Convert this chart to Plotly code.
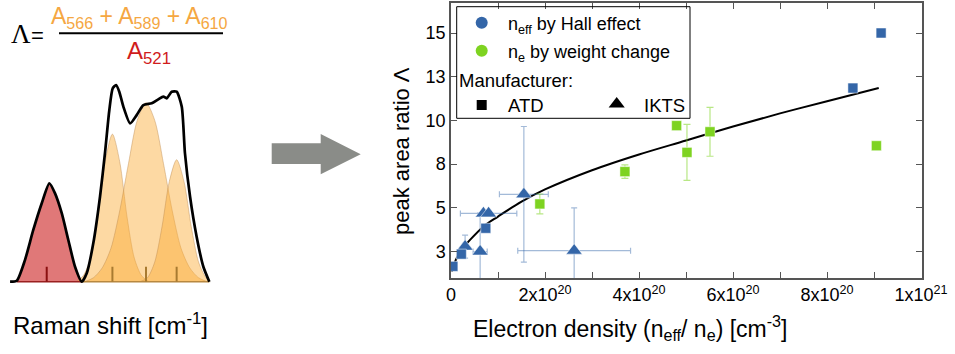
import plotly.graph_objects as go

W, H = 955, 354

# ---------------- Raman spectrum sketch (left panel) ----------------
spectrum_shift = [495.9, 500.5, 506.1, 511.8, 517.6, 522.8, 526.7, 531.3, 535.8, 540.4,
                  545.0, 548.4, 552.9, 557.5, 560.9, 563.9, 566.2, 568.5, 570.7, 573.5,
                  578.1, 582.6, 587.2, 592.9, 597.4, 600.9, 603.2, 606.6, 610.0, 613.5,
                  615.7, 619.2, 623.7, 628.3, 632.4]
spectrum_int = [0.0, 0.005, 0.110, 0.263, 0.399, 0.500, 0.449, 0.348, 0.212, 0.076,
                0.0, 0.043, 0.195, 0.432, 0.653, 0.873, 0.983, 1.0, 0.966, 0.890,
                0.805, 0.847, 0.898, 0.907, 0.927, 0.941, 0.932, 0.966, 0.966, 0.890,
                0.653, 0.432, 0.229, 0.076, 0.0]

band_566_shift = [541, 546, 551, 556, 561, 566, 571, 576, 581, 586, 591]
band_566_int = [0.0, 0.03, 0.12, 0.33, 0.61, 0.75, 0.61, 0.33, 0.12, 0.03, 0.0]
band_589_shift = [547, 553, 559, 565, 571, 577, 583, 589, 595, 601, 607, 613, 619, 625, 631]
band_589_int = [0.0, 0.02, 0.07, 0.17, 0.36, 0.60, 0.82, 0.91, 0.82, 0.60, 0.36, 0.17, 0.07, 0.02, 0.0]
band_610_shift = [585, 590, 595, 600, 605, 610, 615, 620, 625, 630, 633]
band_610_int = [0.0, 0.02, 0.10, 0.28, 0.51, 0.62, 0.51, 0.28, 0.10, 0.02, 0.0]

peak_positions = [521, 566, 589, 610]
peak_tick_height = 0.076

# ---------------- Λ vs electron density (right panel) ----------------
hall_atd_x = [0.04e20, 0.22e20, 0.74e20, 8.55e20, 9.15e20]
hall_atd_y = [1.65, 2.35, 3.83, 11.85, 15.0]

hall_ikts_x = [0.30e20, 0.62e20, 0.69e20, 0.80e20, 1.55e20, 2.62e20]
hall_ikts_y = [2.78, 2.50, 4.68, 4.68, 5.77, 2.55]
hall_ikts_xerr = [None, 0.15e20, None, 0.60e20, 0.52e20, 1.20e20]
hall_ikts_yerr = [0.66, 2.2, None, None, 3.88, 2.45]

weight_atd_x = [1.89e20, 3.70e20, 4.80e20, 5.02e20, 5.51e20, 9.05e20]
weight_atd_y = [5.22, 7.07, 9.70, 8.17, 9.35, 8.55]
weight_atd_yerr = [0.57, 0.39, None, 1.6, 1.4, None]

fit_x = [0.015e20, 0.1e20, 0.2e20, 0.4e20, 0.7e20, 1.0e20, 1.5e20, 2.0e20, 3.0e20,
         4.0e20, 5.0e20, 6.0e20, 7.0e20, 8.0e20, 9.1e20]
fit_y = [1.34, 2.0, 2.5, 3.15, 3.95, 4.5, 5.35, 6.05, 7.15, 8.05, 8.85, 9.65, 10.4, 11.1, 11.85]

x_tick_vals = [0, 1e20, 2e20, 3e20, 4e20, 5e20, 6e20, 7e20, 8e20, 9e20, 1e21]
x_tick_text = ["0", "", "2x10<sup>20</sup>", "", "4x10<sup>20</sup>", "",
               "6x10<sup>20</sup>", "", "8x10<sup>20</sup>", "", "1x10<sup>21</sup>"]
y_tick_vals = [2.5, 5, 7.5, 10, 12.5, 15]
y_tick_text = ["3", "5", "8", "10", "13", "15"]

BLUE = "#3466a8"
GREEN = "#7ed321"
ORANGE_TXT = "#f5a742"
RED_TXT = "#d01c1c"
FONT = "Liberation Sans, Arial, sans-serif"

fig = go.Figure()

# --- left panel: bands and spectrum ---
red_idx = [i for i, s in enumerate(spectrum_shift) if 500 <= s <= 545]
fig.add_trace(go.Scatter(
    x=[spectrum_shift[i] for i in red_idx], y=[spectrum_int[i] for i in red_idx],
    mode="lines", line=dict(width=0, shape="spline", smoothing=0.6),
    fill="tozeroy", fillcolor="#e07878", xaxis="x2", yaxis="y2", hoverinfo="skip"))

for bs, bi in [(band_566_shift, band_566_int), (band_589_shift, band_589_int),
               (band_610_shift, band_610_int)]:
    fig.add_trace(go.Scatter(
        x=bs, y=bi, mode="lines",
        line=dict(width=1, color="rgba(190,140,80,0.45)", shape="spline", smoothing=0.8),
        fill="tozeroy", fillcolor="rgba(250,170,50,0.45)",
        xaxis="x2", yaxis="y2", hoverinfo="skip"))

# baselines under the red and orange parts
fig.add_trace(go.Scatter(x=[500.5, 545.0], y=[0, 0], mode="lines",
                         line=dict(color="#9a2020", width=1.5), xaxis="x2", yaxis="y2"))
fig.add_trace(go.Scatter(x=[545.0, 632.4], y=[0, 0], mode="lines",
                         line=dict(color="#b88840", width=1.5), xaxis="x2", yaxis="y2"))

# peak position ticks
for k, p in enumerate(peak_positions):
    fig.add_trace(go.Scatter(
        x=[p, p], y=[0, peak_tick_height], mode="lines",
        line=dict(color="#8b1010" if k == 0 else "#a87a30", width=2),
        xaxis="x2", yaxis="y2", hoverinfo="skip"))

fig.add_trace(go.Scatter(
    x=spectrum_shift, y=spectrum_int, mode="lines",
    line=dict(color="black", width=2.7, shape="spline", smoothing=0.6),
    xaxis="x2", yaxis="y2", hoverinfo="skip"))

# --- right panel ---
fig.add_trace(go.Scatter(x=fit_x, y=fit_y, mode="lines",
                         line=dict(color="black", width=2, shape="spline", smoothing=1.0)))

fig.add_trace(go.Scatter(
    x=hall_ikts_x, y=hall_ikts_y, mode="markers",
    marker=dict(symbol="triangle-up", size=14, color=BLUE,
                line=dict(color="rgba(255,255,255,0.5)", width=1)),
    error_x=dict(type="data", array=hall_ikts_xerr, visible=True,
                 color="rgba(52,102,168,0.45)", thickness=1.2, width=3),
    error_y=dict(type="data", array=hall_ikts_yerr, visible=True,
                 color="rgba(52,102,168,0.45)", thickness=1.2, width=3)))

fig.add_trace(go.Scatter(
    x=hall_atd_x, y=hall_atd_y, mode="markers",
    marker=dict(symbol="square", size=10, color=BLUE,
                line=dict(color="rgba(255,255,255,0.5)", width=1))))

fig.add_trace(go.Scatter(
    x=weight_atd_x, y=weight_atd_y, mode="markers",
    marker=dict(symbol="square", size=10, color=GREEN,
                line=dict(color="rgba(255,255,255,0.5)", width=1)),
    error_y=dict(type="data", array=weight_atd_yerr, visible=True,
                 color="rgba(126,211,33,0.55)", thickness=1.2, width=3.5)))

# --- legend drawn on a pixel overlay ---
fig.add_trace(go.Scatter(
    x=[481.7, 481.7], y=[22.7, 50.7], mode="markers",
    marker=dict(symbol="circle", size=12, color=[BLUE, GREEN]),
    xaxis="x3", yaxis="y3", hoverinfo="skip"))
fig.add_trace(go.Scatter(
    x=[481.7], y=[105], mode="markers",
    marker=dict(symbol="square", size=10, color="black"),
    xaxis="x3", yaxis="y3", hoverinfo="skip"))
fig.add_trace(go.Scatter(
    x=[616.7], y=[104], mode="markers",
    marker=dict(symbol="triangle-up", size=14, color="black"),
    xaxis="x3", yaxis="y3", hoverinfo="skip"))

shapes = [
    # legend frame
    dict(type="rect", xref="x3", yref="y3", x0=456.7, x1=690, y0=6.7, y1=118.3,
         line=dict(color="black", width=1)),
    # fraction bar
    dict(type="line", xref="x3", yref="y3", x0=59, x1=223, y0=33.3, y1=33.3,
         line=dict(color="black", width=2)),
    # arrow
    dict(type="path", xref="x3", yref="y3",
         path="M 271.7 143.3 L 320.7 143.3 L 320.7 134 L 360.7 154.3 L 320.7 174.3 "
              "L 320.7 164 L 271.7 164 Z",
         fillcolor="#8a8c88", line=dict(width=0)),
]

def ann(text, x, y, size, color="black", xanchor="left", family=FONT, angle=0):
    return dict(text=text, x=x, y=y, xref="x3", yref="y3", showarrow=False,
                xanchor=xanchor, yanchor="middle", textangle=angle,
                font=dict(size=size, color=color, family=family))

annotations = [
    ann("Λ", 9, 34, 27, family="Liberation Serif, Times New Roman, serif"),
    ann("=", 29, 35, 22),
    ann("A<sub>566</sub> + A<sub>589</sub> + A<sub>610</sub>", 139, 17, 23,
        color=ORANGE_TXT, xanchor="center"),
    ann("A<sub>521</sub>", 149, 52, 24, color=RED_TXT, xanchor="center"),
    ann("Raman shift [cm<sup>-1</sup>]", 11, 324, 24),
    ann("n<sub>eff</sub> by Hall effect", 506, 25, 18),
    ann("n<sub>e</sub> by weight change", 506, 53, 18),
    ann("Manufacturer:", 457, 80, 18.5),
    ann("ATD", 506, 105, 18.5),
    ann("IKTS", 642, 105, 18.5),
    ann("Electron density (n<sub>eff</sub>/ n<sub>e</sub>) [cm<sup>-3</sup>]", 630, 328, 23,
        xanchor="center"),
    ann("peak area ratio Λ", 401, 151, 22, xanchor="center", angle=-90),
]

axis_common = dict(showline=True, linecolor="#555", linewidth=1.5, mirror="ticks",
                   ticks="inside", ticklen=6, tickcolor="#555", tickwidth=1.2,
                   showgrid=False, zeroline=False, automargin=False,
                   tickfont=dict(size=18, family=FONT, color="black"))
hidden = dict(visible=False, automargin=False)

fig.update_layout(
    width=W, height=H, margin=dict(l=0, r=0, t=0, b=0, autoexpand=False),
    paper_bgcolor="white", plot_bgcolor="rgba(0,0,0,0)", showlegend=False,
    font=dict(family=FONT, color="black"),
    xaxis=dict(domain=[451 / W, 922 / W], range=[0, 1.002e21],
               tickmode="array", tickvals=x_tick_vals, ticktext=x_tick_text,
               anchor="y", **axis_common),
    yaxis=dict(domain=[76 / H, 351 / H], range=[0.984, 16.716],
               tickmode="array", tickvals=y_tick_vals, ticktext=y_tick_text,
               anchor="x", **axis_common),
    xaxis2=dict(domain=[0, 240 / W], range=[489.0, 653.4], anchor="y2", **hidden),
    yaxis2=dict(domain=[0, 1], range=[-0.3676, 1.4321], anchor="x2", **hidden),
    xaxis3=dict(domain=[0, 1], range=[0, W], anchor="y3", **hidden),
    yaxis3=dict(domain=[0, 1], range=[H, 0], anchor="x3", **hidden),
    shapes=shapes, annotations=annotations,
)

fig.write_html("out.html")
